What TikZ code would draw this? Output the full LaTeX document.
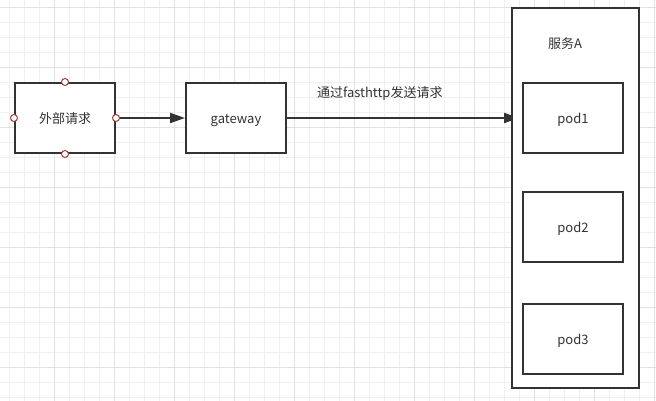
\documentclass[tikz,border=0pt]{standalone}
\usepackage{fontspec}
\setmainfont{Noto Sans CJK SC}
\usepackage{tikz}
\usetikzlibrary{arrows.meta,positioning,backgrounds}
\definecolor{linie}{HTML}{333333}
\definecolor{textgrau}{HTML}{333333}
\definecolor{portrot}{HTML}{A33A37}
\definecolor{gitterfein}{HTML}{F0F0F0}
\definecolor{gittergrob}{HTML}{E2E2E2}
\tikzset{
  kasten/.style={draw=linie,line width=2pt,fill=white,minimum width=100pt,minimum height=70pt,
    text=textgrau,font=\fontsize{13}{15}\selectfont,inner sep=0pt,text height=11.5pt,text depth=0.5pt},
  anschluss/.style={circle,draw=portrot,line width=1pt,fill=white,minimum size=7pt,inner sep=0pt},
  pfeil/.style={draw=linie,line width=2pt,-{Triangle[length=15pt,width=10pt]}},
  schrift/.style={text=textgrau,font=\fontsize{13}{15}\selectfont,inner sep=0pt,text height=11.5pt,text depth=0.5pt}
}
\begin{document}
\begin{tikzpicture}[x=1pt,y=-1pt]
\useasboundingbox (0,0) rectangle (656,401);
%Hintergrundgitter
\fill[white] (0,0) rectangle (656,401);
\foreach \gx in {9.3,24.3,...,656}{
\draw[gitterfein,line width=1pt] (\gx,0) -- (\gx,401);
}
\foreach \gy in {7.3,22.3,...,401}{
\draw[gitterfein,line width=1pt] (0,\gy) -- (656,\gy);
}
\foreach \gx in {54.3,114.3,...,656}{
\draw[gittergrob,line width=1pt] (\gx,0) -- (\gx,401);
}
\foreach \gy in {7.3,67.3,...,401}{
\draw[gittergrob,line width=1pt] (0,\gy) -- (656,\gy);
}
%Knoten
\node[kasten] (anfrage) at (65,118) {外部请求};
\node[kasten] (gateway) at (236,118) {gateway};
\coordinate (ziel) at (519,118);
%Pfeil liegt unter dem Dienstkasten
\draw[pfeil] (gateway.east) -- node[schrift,pos=0.4,above=19pt] {通过fasthttp发送请求} (ziel);
\node[draw=linie,line width=2pt,fill=white,minimum width=127pt,minimum height=380pt,inner sep=0pt] (dienst) at (575.5,198) {};
\node[schrift] (dienstname) at (565,43) {服务A};
\foreach \i/\py in {1/117.7,2/226.7,3/338.7}{
\node[kasten] (pod\i) at (573,\py) {pod\i};
}
%Anschlusspunkte
\foreach \a in {north,south,east,west}{
\node[anschluss] at (anfrage.\a) {};
}
%Verbindungen
\draw[pfeil,shorten <=3.5pt] (anfrage.east) -- (gateway.west);
\end{tikzpicture}
\end{document}
